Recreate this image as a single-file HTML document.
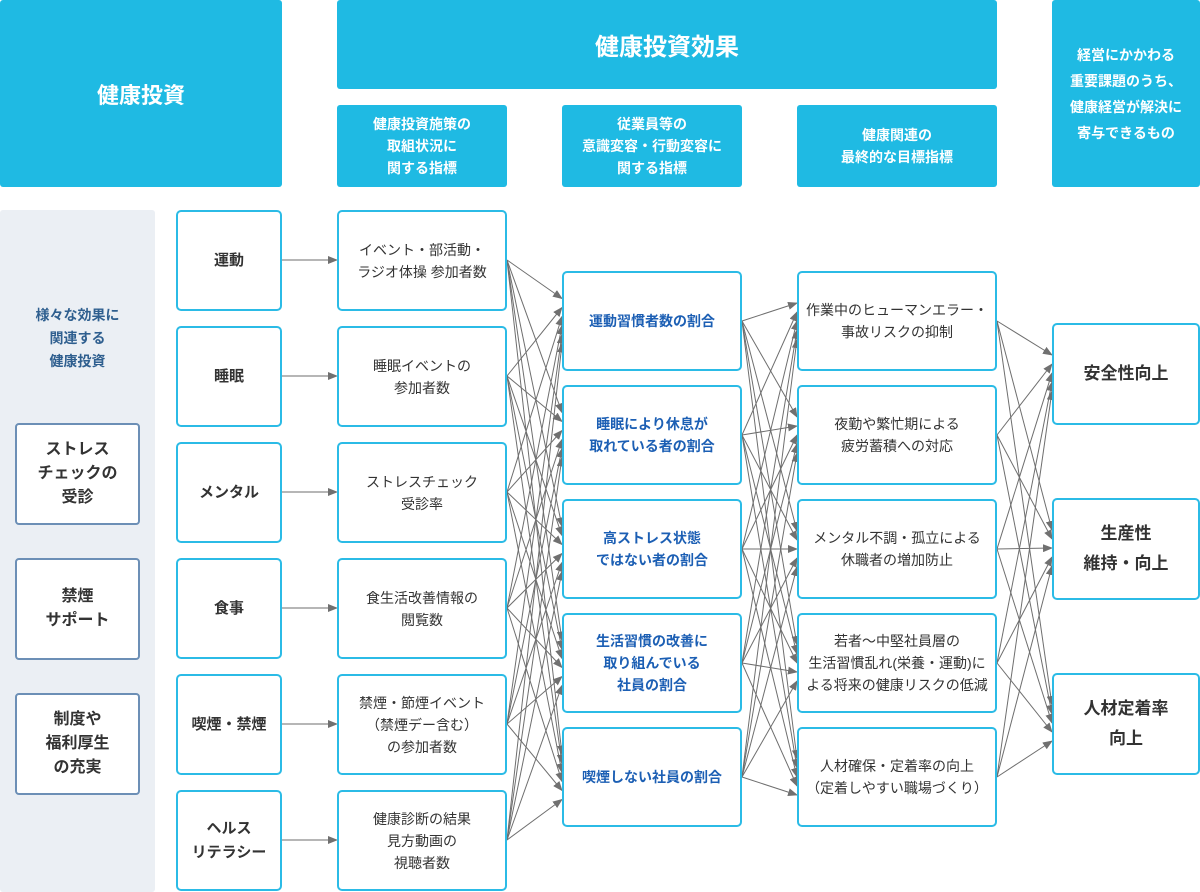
<!DOCTYPE html>
<html><head><meta charset="utf-8"><style>
body{margin:0;width:1200px;height:892px;background:#fff;position:relative;overflow:hidden;font-family:"Liberation Sans","Noto Sans CJK JP",sans-serif;}
.b{position:absolute;display:flex;align-items:center;justify-content:center;text-align:center;box-sizing:border-box;}
.h{background:#1fbae3;color:#fff;font-weight:bold;border-radius:3px;}
.n{border:2px solid #2bbbe6;border-radius:5px;background:#fff;color:#333;font-size:14px;line-height:22px;}
.c3{color:#1c5fb4;font-weight:bold;}
.bd{font-weight:bold;}
.g{border:2px solid #6c8fb6;border-radius:4px;background:#fff;color:#333;font-size:16px;line-height:24px;font-weight:bold;}
svg{position:absolute;left:0;top:0;}
</style></head><body>
<div class="b h" style="left:0;top:0;width:282px;height:187px;font-size:22px">健康投資</div>
<div class="b h" style="left:337px;top:0;width:660px;height:89px;font-size:24px">健康投資効果</div>
<div class="b h" style="left:337px;top:105px;width:170px;height:82px;font-size:14px;line-height:22px">健康投資施策の<br>取組状況に<br>関する指標</div>
<div class="b h" style="left:562px;top:105px;width:180px;height:82px;font-size:14px;line-height:22px">従業員等の<br>意識変容・行動変容に<br>関する指標</div>
<div class="b h" style="left:797px;top:105px;width:200px;height:82px;font-size:14px;line-height:22px">健康関連の<br>最終的な目標指標</div>
<div class="b h" style="left:1052px;top:0;width:148px;height:187px;font-size:14px;line-height:26px">経営にかかわる<br>重要課題のうち、<br>健康経営が解決に<br>寄与できるもの</div>
<div class="b" style="left:0;top:210px;width:155px;height:682px;background:#ebeff4;border-radius:3px"></div>
<div class="b" style="left:0;top:300px;width:155px;height:76px;color:#2f5f8f;font-size:14px;line-height:23px;font-weight:bold">様々な効果に<br>関連する<br>健康投資</div>
<div class="b g" style="left:15px;top:423px;width:125px;height:102px">ストレス<br>チェックの<br>受診</div>
<div class="b g" style="left:15px;top:558px;width:125px;height:102px">禁煙<br>サポート</div>
<div class="b g" style="left:15px;top:693px;width:125px;height:102px">制度や<br>福利厚生<br>の充実</div>
<svg width="1200" height="892"><defs><marker id="a" markerWidth="10" markerHeight="8" refX="9" refY="4" orient="auto" markerUnits="userSpaceOnUse"><path d="M0,0 L10,4 L0,8z" fill="#707070"/></marker></defs><g id="L" stroke="#6e6e6e" stroke-width="1" marker-end="url(#a)"></g></svg>
<div id="boxes"></div>
<script>
var c1=["運動","睡眠","メンタル","食事","喫煙・禁煙","ヘルス<br>リテラシー"];
var c2=["イベント・部活動・<br>ラジオ体操 参加者数","睡眠イベントの<br>参加者数","ストレスチェック<br>受診率","食生活改善情報の<br>閲覧数","禁煙・節煙イベント<br>（禁煙デー含む）<br>の参加者数","健康診断の結果<br>見方動画の<br>視聴者数"];
var c3=["運動習慣者数の割合","睡眠により休息が<br>取れている者の割合","高ストレス状態<br>ではない者の割合","生活習慣の改善に<br>取り組んでいる<br>社員の割合","喫煙しない社員の割合"];
var c4=["作業中のヒューマンエラー・<br>事故リスクの抑制","夜勤や繁忙期による<br>疲労蓄積への対応","メンタル不調・孤立による<br>休職者の増加防止","若者〜中堅社員層の<br>生活習慣乱れ(栄養・運動)に<br>よる将来の健康リスクの低減","人材確保・定着率の向上<br>（定着しやすい職場づくり）"];
var c5=["安全性向上","生産性<br>維持・向上","人材定着率<br>向上"];
var h="",t6=[210,326,442,558,674,790],t5=[271,385,499,613,727],t3=[323,498,673];
function bx(x,y,w,hh,txt,cls,fs,lh){h+='<div class="b n '+cls+'" style="left:'+x+'px;top:'+y+'px;width:'+w+'px;height:'+hh+'px;font-size:'+fs+'px;line-height:'+lh+'px">'+txt+'</div>';}
c1.forEach(function(s,i){bx(176,t6[i],106,101,s,"bd",15,24)});
c2.forEach(function(s,i){bx(337,t6[i],170,101,s,"",14,22)});
c3.forEach(function(s,i){bx(562,t5[i],180,100,s,"c3",14,22)});
c4.forEach(function(s,i){bx(797,t5[i],200,100,s,"",14,22)});
c5.forEach(function(s,i){bx(1052,t3[i],148,102,s,"bd",17,30)});
document.getElementById("boxes").innerHTML=h;
var L="";
function ln(x1,y1,x2,y2){L+='<line x1="'+x1+'" y1="'+y1+'" x2="'+x2+'" y2="'+y2+'"/>';}
t6.forEach(function(y){ln(282,y+50,337,y+50)});
t6.forEach(function(y,i){t5.forEach(function(ty,j){ln(507,y+50,562,ty+50+(i-2.5)*9)})});
t5.forEach(function(y,i){t5.forEach(function(ty,j){ln(742,y+50,797,ty+50+(i-2)*9)})});
t5.forEach(function(y,i){t3.forEach(function(ty,j){ln(997,y+50,1052,ty+50+(i-2)*9)})});
document.getElementById("L").innerHTML=L;
</script>
</body></html>
